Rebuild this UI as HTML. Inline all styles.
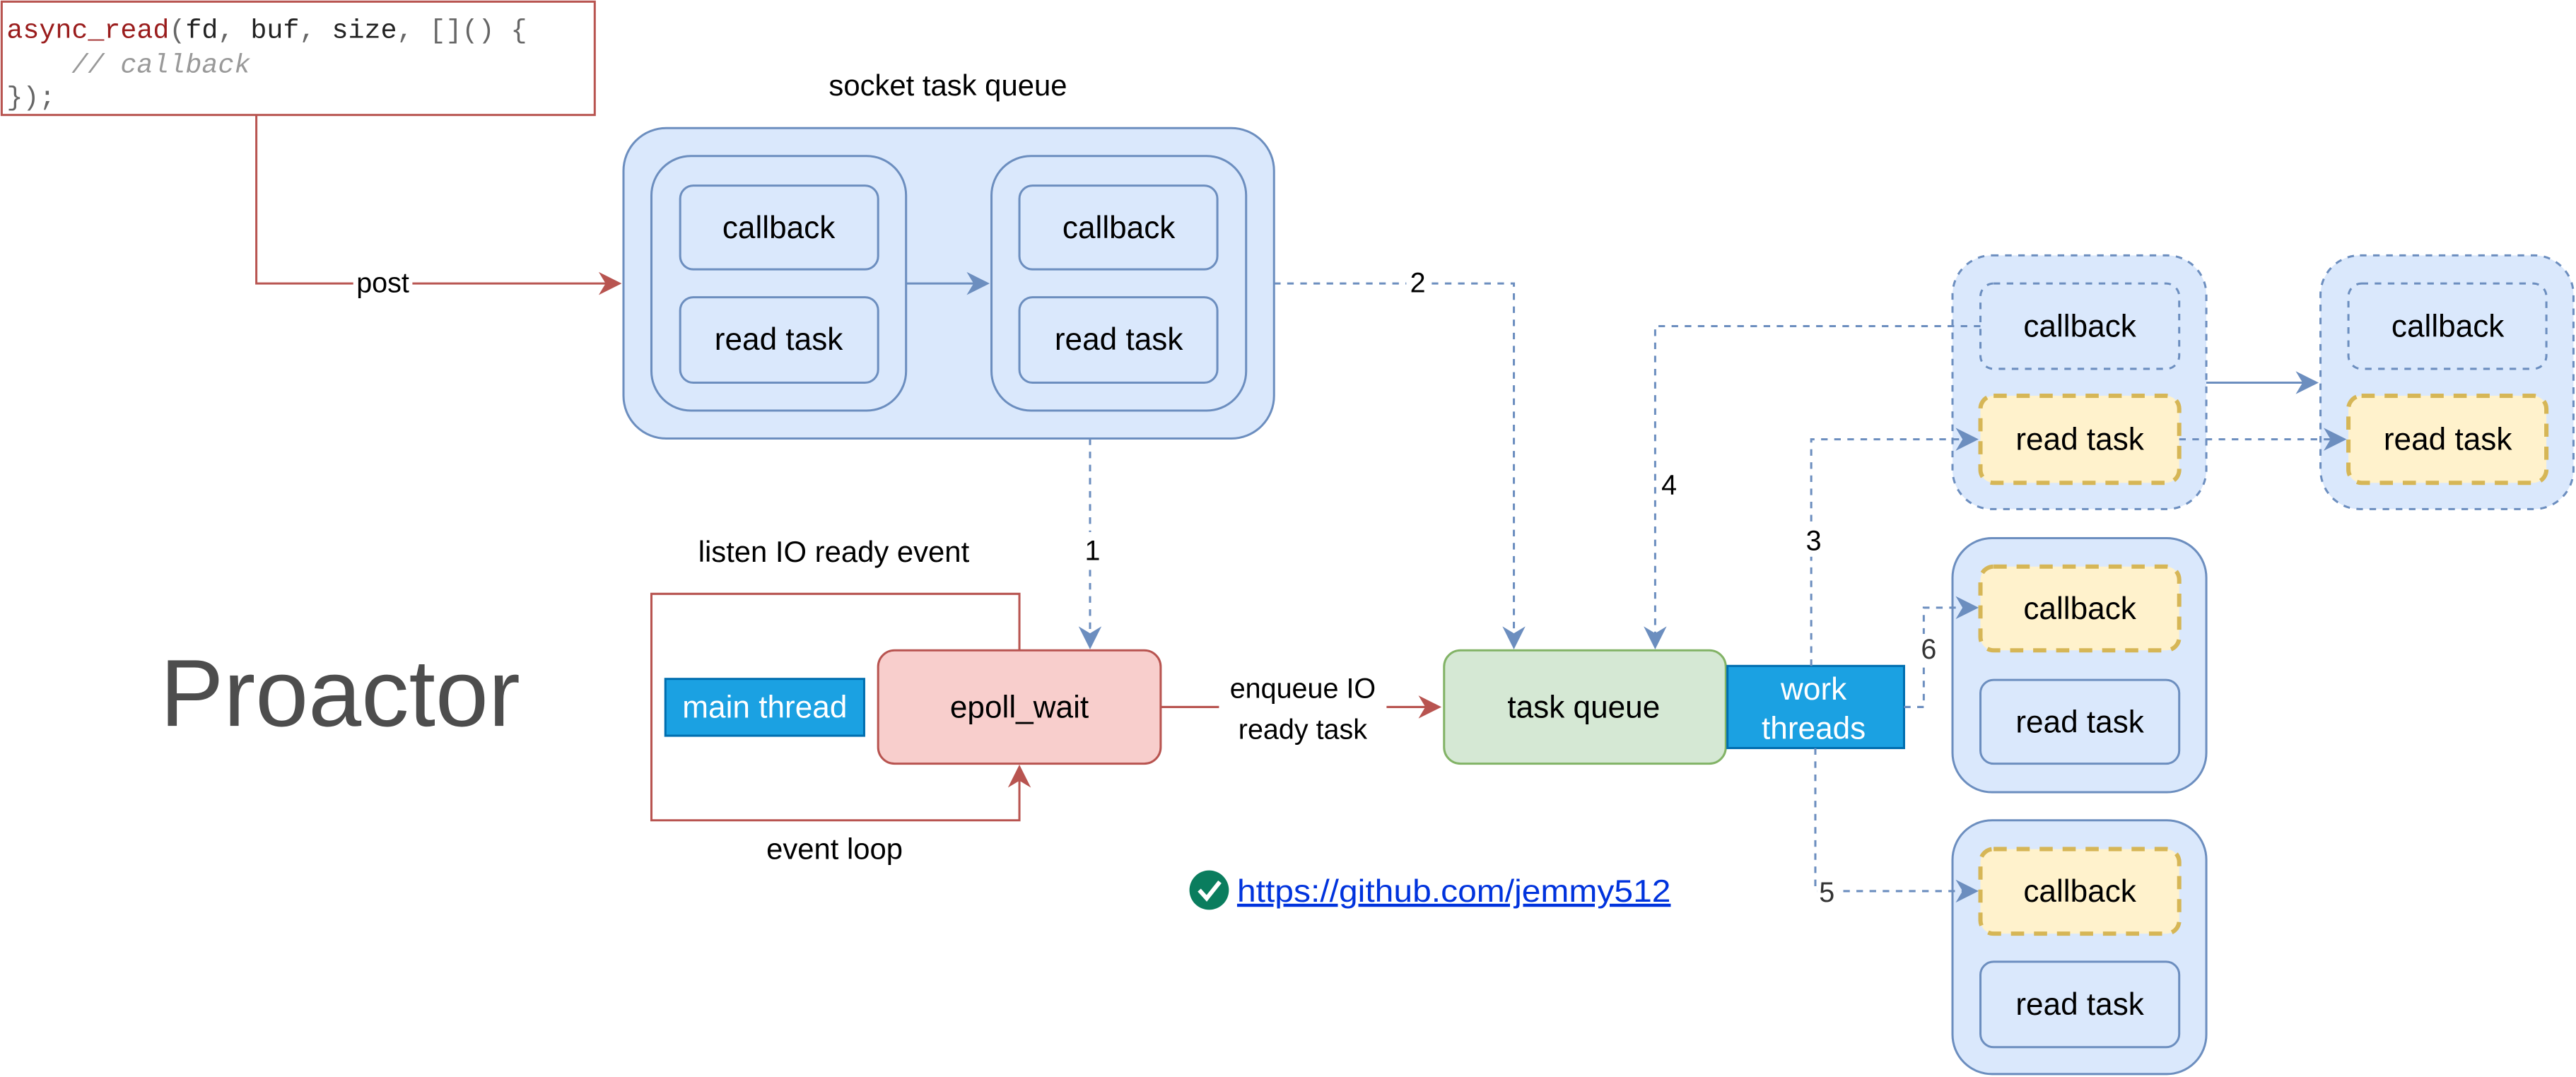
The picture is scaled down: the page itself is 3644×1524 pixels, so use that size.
<!DOCTYPE html>
<html><head><meta charset="utf-8"><style>
html,body{margin:0;padding:0;background:#fff;}
svg{display:block;}
text{font-family:"Liberation Sans",Helvetica,Arial,sans-serif;}
text.mono{font-family:"Liberation Mono",monospace;}
</style></head><body>
<svg width="3644" height="1524" viewBox="0 0 1568 655.8" xmlns="http://www.w3.org/2000/svg">
<defs>
<marker id="ab" viewBox="0 0 10 10" refX="9" refY="5" markerWidth="14" markerHeight="14" markerUnits="userSpaceOnUse" orient="auto"><path d="M0,0 L10,5 L0,10 L3,5 Z" fill="#6c8ebf"/></marker>
<marker id="ar" viewBox="0 0 10 10" refX="9" refY="5" markerWidth="14" markerHeight="14" markerUnits="userSpaceOnUse" orient="auto"><path d="M0,0 L10,5 L0,10 L3,5 Z" fill="#b85450"/></marker>
</defs>
<rect width="1568" height="656" fill="#fff"/>

<!-- code box -->
<rect x="1" y="1" width="361" height="69" fill="#fff" stroke="#b85450" stroke-width="1.3"/>
<text class="mono" x="4" y="23" font-size="16.5"><tspan fill="#9a1c1c">async_read</tspan><tspan fill="#666">(</tspan><tspan fill="#222">fd</tspan><tspan fill="#666">, </tspan><tspan fill="#222">buf</tspan><tspan fill="#666">, </tspan><tspan fill="#222">size</tspan><tspan fill="#666">, []() {</tspan></text>
<text class="mono" x="4" y="44" font-size="16.5" fill="#999" font-style="italic" xml:space="preserve">    // callback</text>
<text class="mono" x="4" y="64" font-size="16.5" fill="#666">});</text>

<!-- post -->
<path d="M156,70 V172.6 H377" fill="none" stroke="#b85450" stroke-width="1.3" marker-end="url(#ar)"/>
<rect x="215" y="163" width="36" height="18" fill="#fff"/>
<text x="233" y="178" font-size="17" text-anchor="middle">post</text>

<!-- socket task queue -->
<text x="577" y="58" font-size="18" text-anchor="middle">socket task queue</text>
<rect x="379.5" y="78" width="396" height="189" rx="26" fill="#dae8fc" stroke="#6c8ebf" stroke-width="1.3"/>
<rect x="396.5" y="95" width="155" height="155" rx="24" fill="#dae8fc" stroke="#6c8ebf" stroke-width="1.3"/>
<rect x="603.5" y="95" width="155" height="155" rx="24" fill="#dae8fc" stroke="#6c8ebf" stroke-width="1.3"/>
<g fill="#dae8fc" stroke="#6c8ebf" stroke-width="1.3">
<rect x="414" y="113" width="120.5" height="51" rx="8"/>
<rect x="414" y="181" width="120.5" height="52" rx="8"/>
<rect x="620.5" y="113" width="120.5" height="51" rx="8"/>
<rect x="620.5" y="181" width="120.5" height="52" rx="8"/>
</g>
<g font-size="19" text-anchor="middle">
<text x="474" y="145">callback</text>
<text x="474" y="213">read task</text>
<text x="681" y="145">callback</text>
<text x="681" y="213">read task</text>
</g>
<path d="M551.5,172.6 H601" stroke="#6c8ebf" stroke-width="1.3" fill="none" marker-end="url(#ab)"/>

<!-- dashed 1 -->
<path d="M663.5,267 V394" stroke="#6c8ebf" stroke-width="1.3" stroke-dasharray="4,4" fill="none" marker-end="url(#ab)"/>
<rect x="658" y="324" width="12" height="20" fill="#fff"/>
<text x="665" y="341" font-size="17" text-anchor="middle">1</text>

<!-- dashed 2 -->
<path d="M775.5,172.6 H921.5 V394" stroke="#6c8ebf" stroke-width="1.3" stroke-dasharray="4,4" fill="none" marker-end="url(#ab)"/>
<rect x="856" y="163" width="14" height="19" fill="#fff"/>
<text x="863" y="178" font-size="17" text-anchor="middle">2</text>

<!-- listen loop -->
<text x="507.5" y="342" font-size="18" text-anchor="middle">listen IO ready event</text>
<path d="M620.5,396 V361.6 H396.5 V499.5 H620.5 V467" stroke="#b85450" stroke-width="1.3" fill="none" marker-end="url(#ar)"/>
<rect x="534.5" y="396" width="172" height="69" rx="10" fill="#f8cecc" stroke="#b85450" stroke-width="1.3"/>
<text x="620.5" y="437" font-size="19" text-anchor="middle">epoll_wait</text>
<rect x="405" y="413.4" width="121" height="34.6" fill="#1ba1e2" stroke="#006eaf" stroke-width="1.3"/>
<text x="465.5" y="437" font-size="19" text-anchor="middle" fill="#fff">main thread</text>
<text x="508" y="523" font-size="18" text-anchor="middle">event loop</text>

<text x="207" y="442" font-size="58" text-anchor="middle" fill="#4d4d4d">Proactor</text>

<!-- enqueue -->
<path d="M706.5,430.5 H876" stroke="#b85450" stroke-width="1.3" fill="none" marker-end="url(#ar)"/>
<rect x="742" y="405" width="102" height="50" fill="#fff"/>
<text x="793" y="425" font-size="17" text-anchor="middle">enqueue IO</text>
<text x="793" y="450" font-size="17" text-anchor="middle">ready task</text>

<!-- task queue -->
<rect x="879" y="396" width="171.5" height="69" rx="10" fill="#d5e8d4" stroke="#82b366" stroke-width="1.3"/>
<text x="964" y="437" font-size="19" text-anchor="middle">task queue</text>
<rect x="1051.5" y="405.5" width="107.5" height="50" fill="#1ba1e2" stroke="#006eaf" stroke-width="1.3"/>
<text x="1104" y="426" font-size="19" text-anchor="middle" fill="#fff">work</text>
<text x="1104" y="450" font-size="19" text-anchor="middle" fill="#fff">threads</text>

<!-- right containers -->
<g stroke="#6c8ebf" stroke-width="1.3" fill="#dae8fc">
<rect x="1188.5" y="155.5" width="154.5" height="154.5" rx="24" stroke-dasharray="4,4"/>
<rect x="1412.5" y="155.5" width="154" height="154.5" rx="24" stroke-dasharray="4,4"/>
<rect x="1188.5" y="327.7" width="154.5" height="154.7" rx="24"/>
<rect x="1188.5" y="499.5" width="154.5" height="154.5" rx="24"/>
<rect x="1205.5" y="172.6" width="121" height="52" rx="8" stroke-dasharray="4,4"/>
<rect x="1429.5" y="172.6" width="120.5" height="52" rx="8" stroke-dasharray="4,4"/>
<rect x="1205.5" y="414" width="121" height="51" rx="8"/>
<rect x="1205.5" y="585.6" width="121" height="52" rx="8"/>
</g>
<g stroke="#d6b656" stroke-width="2.6" fill="#fff2cc" stroke-dasharray="8,6">
<rect x="1205.5" y="241" width="121" height="53" rx="8"/>
<rect x="1429.5" y="241" width="120.5" height="53" rx="8"/>
<rect x="1205.5" y="345" width="121" height="51" rx="8"/>
<rect x="1205.5" y="517" width="121" height="51.5" rx="8"/>
</g>
<g font-size="19" text-anchor="middle">
<text x="1266" y="205">callback</text>
<text x="1266" y="274">read task</text>
<text x="1490" y="205">callback</text>
<text x="1490" y="274">read task</text>
<text x="1266" y="377">callback</text>
<text x="1266" y="446">read task</text>
<text x="1266" y="549">callback</text>
<text x="1266" y="618">read task</text>
</g>
<path d="M1343,233 H1410" stroke="#6c8ebf" stroke-width="1.3" fill="none" marker-end="url(#ab)"/>

<g stroke="#6c8ebf" stroke-width="1.3" stroke-dasharray="4,4" fill="none">
<path d="M1326.5,267.5 H1427" marker-end="url(#ab)"/>
<path d="M1205.5,198.6 H1007.5 V394" marker-end="url(#ab)"/>
<path d="M1102.5,405.5 V267.5 H1203" marker-end="url(#ab)"/>
<path d="M1159,430.5 H1171 V370 H1203" marker-end="url(#ab)"/>
<path d="M1105,455.6 V542.6 H1203" marker-end="url(#ab)"/>
</g>
<rect x="1010" y="285" width="12" height="20" fill="#fff"/>
<text x="1016" y="301" font-size="17" text-anchor="middle">4</text>
<rect x="1097" y="319" width="14" height="20" fill="#fff"/>
<text x="1104" y="335" font-size="17" text-anchor="middle">3</text>
<rect x="1168" y="386" width="12" height="19" fill="#fff"/>
<text x="1174" y="401" font-size="17" text-anchor="middle" fill="#333">6</text>
<rect x="1106" y="533" width="12" height="19" fill="#fff"/>
<text x="1112" y="549" font-size="17" text-anchor="middle" fill="#333">5</text>

<!-- link -->
<circle cx="736" cy="542" r="12" fill="#0a7d5e"/>
<path d="M730,542 L734.5,547 L742.5,537" stroke="#fff" stroke-width="2.6" fill="none"/>
<text x="753" y="549" font-size="19" fill="#0033dd" text-decoration="underline" textLength="264" lengthAdjust="spacingAndGlyphs">https://github.com/jemmy512</text>
</svg>
</body></html>
